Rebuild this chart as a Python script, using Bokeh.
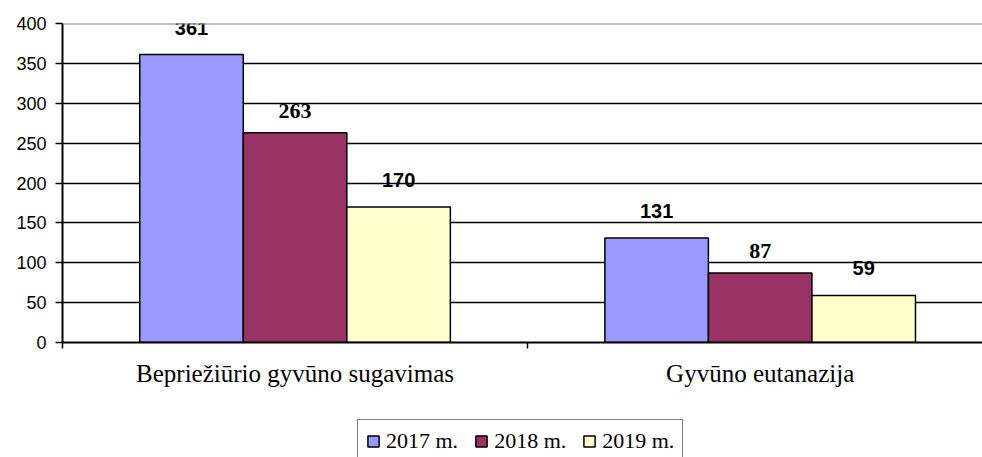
from bokeh.plotting import figure
from bokeh.layouts import column
from bokeh.models import (Range1d, FixedTicker, ColumnDataSource, Legend,
                          LegendItem, Span)
from bokeh.core.properties import value
from bokeh.transform import dodge
from bokeh.embed import file_html
from bokeh.resources import INLINE

categories = ["Bepriežiūrio gyvūno sugavimas", "Gyvūno eutanazija"]
years = ["2017 m.", "2018 m.", "2019 m."]
y2017 = [361, 131]
y2018 = [263, 87]
y2019 = [170, 59]
yticks = [0, 50, 100, 150, 200, 250, 300, 350, 400]

colors = ["#9999FF", "#993366", "#FFFFCC"]
label_fonts = ["Liberation Sans", "serif", "Liberation Sans"]
label_sizes = ["20px", "22px", "20px"]
label_offsets = [27, 22, 27]

centers = [i + 0.5 for i in range(len(categories))]
bar_w = 0.2226

p = figure(width=982, height=400, output_backend="svg", toolbar_location=None,
           x_range=Range1d(0, 1.978), y_range=Range1d(0, 400),
           min_border_left=62, min_border_right=0, min_border_top=23,
           min_border_bottom=58)
p.outline_line_color = None
p.background_fill_color = "white"
p.border_fill_color = "white"

p.xgrid.visible = False
p.ygrid.ticker = FixedTicker(ticks=yticks[1:-1])
p.ygrid.grid_line_color = "black"
p.ygrid.grid_line_width = 1.5
p.add_layout(Span(location=400, dimension="width", line_color="#808080", line_width=2))

for k, vals in enumerate([y2017, y2018, y2019]):
    src = ColumnDataSource(dict(x=centers, top=vals, lab=[str(v) for v in vals]))
    off = (k - 1) * bar_w
    p.vbar(x=dodge("x", off), top="top", bottom=0, width=bar_w, source=src,
           fill_color=colors[k], line_color="black", line_width=1.5)
    p.text(x=dodge("x", off), y="top", text="lab", source=src,
           y_offset=-label_offsets[k], text_align="center", text_baseline="middle",
           text_font=value(label_fonts[k]), text_font_style="bold",
           text_font_size=value(label_sizes[k]), text_color="black")

# x axis
p.xaxis.ticker = FixedTicker(ticks=centers, minor_ticks=[0, 1, 2])
p.xaxis.major_label_overrides = {c: n for c, n in zip(centers, categories)}
p.xaxis.major_tick_line_color = None
p.xaxis.major_tick_out = 0
p.xaxis.major_tick_in = 0
p.xaxis.minor_tick_line_color = "black"
p.xaxis.minor_tick_line_width = 1.5
p.xaxis.minor_tick_out = 6
p.xaxis.minor_tick_in = 0
p.xaxis.axis_line_color = "black"
p.xaxis.axis_line_width = 2
p.xaxis.major_label_text_font = "Liberation Serif"
p.xaxis.major_label_text_font_size = "25px"
p.xaxis.major_label_text_color = "black"
p.xaxis.major_label_standoff = 11

# y axis
p.yaxis.ticker = FixedTicker(ticks=yticks)
p.yaxis.minor_tick_line_color = None
p.yaxis.major_tick_out = 7
p.yaxis.major_tick_in = 0
p.yaxis.major_tick_line_color = "black"
p.yaxis.major_tick_line_width = 1.5
p.yaxis.axis_line_color = "black"
p.yaxis.axis_line_width = 2
p.yaxis.major_label_text_font = "Liberation Sans"
p.yaxis.major_label_text_font_size = "18px"
p.yaxis.major_label_text_color = "black"
p.yaxis.major_label_standoff = 9

# legend strip below the chart
lg = figure(width=982, height=57, output_backend="svg", toolbar_location=None,
            x_range=Range1d(0, 1), y_range=Range1d(0, 1),
            x_axis_location=None, y_axis_location=None,
            min_border=0, min_border_left=0, min_border_right=0,
            min_border_top=0, min_border_bottom=0)
lg.outline_line_color = None
lg.grid.visible = False
lg.background_fill_color = "white"
lg.border_fill_color = "white"
proxies = []
for k, vals in enumerate([y2017, y2018, y2019]):
    # hidden legend proxies: only their legend swatch is shown
    r = lg.vbar(x=[0.5], top=[vals[0]], width=0.1, fill_color=colors[k],
                line_color="black", line_width=1.5)
    r.visible = False
    proxies.append(r)

legend = Legend(items=[LegendItem(label=years[k], renderers=[proxies[k]]) for k in range(3)],
                orientation="horizontal", location=(295, -6),
                label_text_font="Liberation Serif", label_text_font_size="22px",
                label_text_color="black", glyph_width=14, glyph_height=14,
                label_standoff=6, spacing=16, padding=8, margin=0,
                border_line_color="black", border_line_width=1.5,
                background_fill_color="white", background_fill_alpha=1,
                inactive_fill_alpha=0)
lg.add_layout(legend, "center")

layout = column(p, lg, spacing=0)
open("out.html", "w").write(file_html(layout, INLINE))
